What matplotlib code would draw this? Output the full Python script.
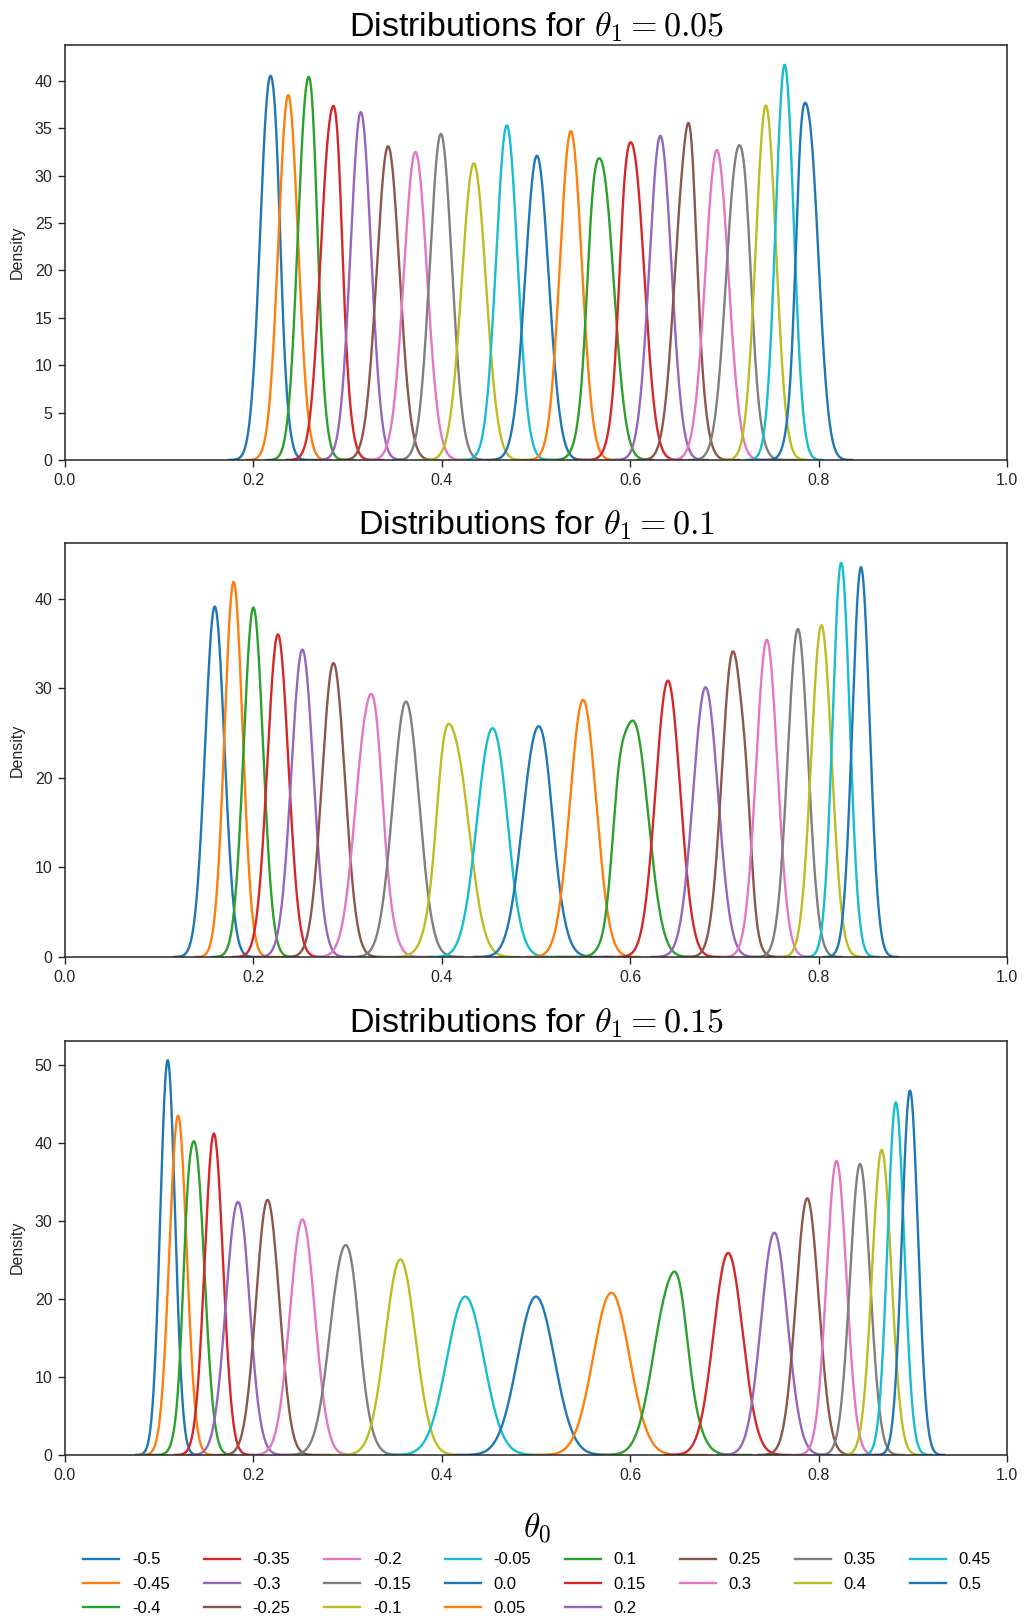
import numpy as np
import matplotlib
matplotlib.use("Agg")
import matplotlib.pyplot as plt

plt.rcParams['font.family'] = ['Liberation Sans', 'DejaVu Sans']
plt.rcParams['mathtext.fontset'] = 'cm'

# theta_0 values, one density curve each
theta0 = ['-0.5', '-0.45', '-0.4', '-0.35', '-0.3', '-0.25', '-0.2', '-0.15', '-0.1', '-0.05',
          '0.0', '0.05', '0.1', '0.15', '0.2', '0.25', '0.3', '0.35', '0.4', '0.45', '0.5']
theta1 = ['0.05', '0.1', '0.15']

# peak position and peak density of each curve
peak_x_005 = [0.217, 0.237, 0.257, 0.282, 0.314, 0.343, 0.372, 0.399, 0.434, 0.469, 0.501,
              0.537, 0.570, 0.603, 0.632, 0.6585, 0.692, 0.714, 0.744, 0.764, 0.789]
peak_y_005 = [40.3, 38.5, 40.0, 36.5, 36.7, 33.1, 32.5, 34.4, 31.3, 35.3, 32.1,
              34.7, 31.4, 33.1, 34.2, 34.1, 32.7, 32.9, 37.4, 41.7, 36.8]

peak_x_010 = [0.159, 0.179, 0.200, 0.226, 0.252, 0.285, 0.322, 0.362, 0.413, 0.453, 0.501,
              0.550, 0.604, 0.640, 0.680, 0.709, 0.745, 0.778, 0.803, 0.824, 0.845]
peak_y_010 = [39.1, 41.8, 39.0, 36.0, 34.3, 32.8, 28.8, 28.5, 25.0, 25.5, 25.6,
              28.7, 26.3, 30.5, 30.1, 34.1, 35.4, 36.6, 37.0, 44.0, 43.5]

peak_x_015 = [0.109, 0.120, 0.138, 0.158, 0.183, 0.215, 0.252, 0.296, 0.356, 0.425, 0.500,
              0.580, 0.642, 0.704, 0.753, 0.788, 0.819, 0.844, 0.867, 0.882, 0.897]
peak_y_015 = [50.6, 43.5, 40.0, 41.2, 32.4, 32.7, 30.2, 26.7, 24.9, 20.3, 20.3,
              20.7, 22.7, 25.9, 28.5, 32.9, 37.7, 37.3, 39.1, 45.2, 46.7]

# secondary bumps: curve index -> [(x, density), ...]
shoulders_005 = {0: [(0.225, 33.0)], 2: [(0.264, 35.0)], 3: [(0.290, 33.1)],
                 12: [(0.559, 26.8)], 13: [(0.593, 28.2)], 15: [(0.665, 33.6)],
                 17: [(0.7236, 27.8)], 20: [(0.780, 32.8)]}
shoulders_010 = {1: [(0.191, 16.0)], 6: [(0.331, 26.4)], 8: [(0.401, 23.5)],
                 9: [(0.465, 20.1)], 10: [(0.511, 22.4)], 12: [(0.587, 20.5)],
                 13: [(0.628, 17.5)], 15: [(0.724, 20.5)], 18: [(0.817, 14.2)]}
shoulders_015 = {2: [(0.129, 31.8)], 4: [(0.192, 26.0)], 5: [(0.230, 16.0)],
                 7: [(0.306, 23.3)], 8: [(0.341, 14.7)], 11: [(0.598, 12.6)],
                 12: [(0.653, 21.7)]}

panels = [(peak_x_005, peak_y_005, shoulders_005),
          (peak_x_010, peak_y_010, shoulders_010),
          (peak_x_015, peak_y_015, shoulders_015)]

colors = plt.rcParams['axes.prop_cycle'].by_key()['color']


def density_curve(cx, cy, extra):
    # gaussian bumps whose sum passes through the peak and each shoulder
    s = 1.0 / (cy * np.sqrt(2 * np.pi))
    px = np.array([cx] + [p[0] for p in extra])
    py = np.array([cy] + [p[1] for p in extra])
    sig = np.array([s] + [0.45 * s] * len(extra))
    M = np.exp(-(px[:, None] - px[None, :]) ** 2 / (2 * sig[None, :] ** 2))
    amp = np.clip(np.linalg.solve(M, py), 0, None)
    x = np.linspace(px.min() - 4.3 * s, px.max() + 4.3 * s, 500)
    y = (amp[None, :] * np.exp(-(x[:, None] - px[None, :]) ** 2 / (2 * sig[None, :] ** 2))).sum(axis=1)
    return x, y


fig = plt.figure(figsize=(10.26, 16.19), dpi=100)
edge = '#262626'
tops = [45, 543, 1040.5]
bottoms = [460, 957, 1455]
axes = []
for k, (px, py, sh) in enumerate(panels):
    ax = fig.add_axes([65 / 1026, 1 - bottoms[k] / 1619, 942 / 1026, (bottoms[k] - tops[k]) / 1619])
    for i, lab in enumerate(theta0):
        x, y = density_curve(px[i], py[i], sh.get(i, []))
        ax.plot(x, y, color=colors[i % 10], lw=1.7, label=lab)
    ax.set_xlim(0, 1)
    ax.set_ylim(bottom=0)
    ax.set_ylabel('Density', fontsize=11.5, color=edge, labelpad=7)
    ax.set_title(r'Distributions for $\theta_1 = %s$' % theta1[k], fontsize=24.5, color='black', pad=6)
    ax.tick_params(direction='out', length=5, width=1, colors=edge, labelsize=11.5, pad=4)
    for sp in ax.spines.values():
        sp.set_color(edge)
        sp.set_linewidth(1.1)
    axes.append(ax)

fig.text(537 / 1026, 1 - 1528 / 1619, r'$\theta_0$', fontsize=24, ha='center', va='center')

handles, labels = axes[-1].get_legend_handles_labels()
fig.legend(handles, labels, loc='upper center', bbox_to_anchor=(537 / 1026, 1 - 1539 / 1619),
           ncol=8, frameon=False, fontsize=12, handlelength=2.15, handletextpad=0.76,
           columnspacing=2.05, labelspacing=0.55, borderpad=0.3)

fig.savefig('out.png', dpi=100)
